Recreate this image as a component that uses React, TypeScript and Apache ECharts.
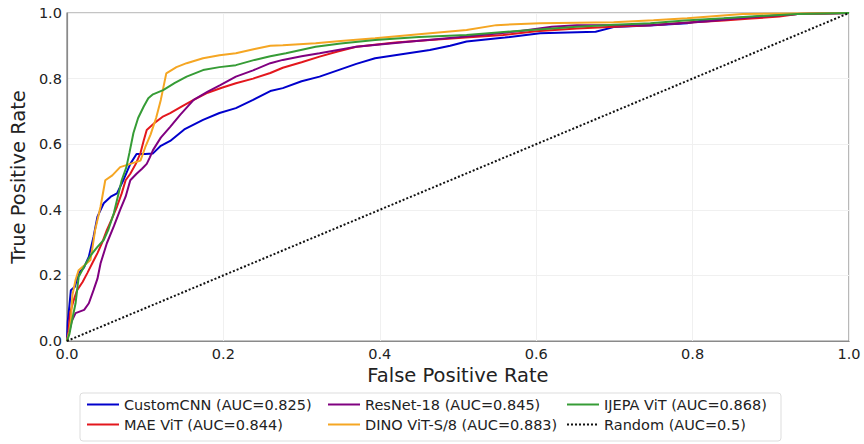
import React, { useEffect, useRef } from "react";
import * as echarts from "echarts";

const seriesNames = [
  "CustomCNN (AUC=0.825)",
  "MAE ViT (AUC=0.844)",
  "ResNet-18 (AUC=0.845)",
  "DINO ViT-S/8 (AUC=0.883)",
  "IJEPA ViT (AUC=0.868)",
  "Random (AUC=0.5)",
];

const customCnn: [number, number][] = [
  [0, 0], [0.001, 0.06], [0.003, 0.105], [0.005, 0.155], [0.01, 0.165], [0.015, 0.207],
  [0.022, 0.225], [0.028, 0.257], [0.034, 0.318], [0.039, 0.379], [0.047, 0.42], [0.056, 0.44],
  [0.064, 0.45], [0.072, 0.49], [0.081, 0.54], [0.089, 0.57], [0.1, 0.57], [0.11, 0.572],
  [0.12, 0.595], [0.132, 0.61], [0.15, 0.645], [0.174, 0.674], [0.195, 0.695], [0.216, 0.71],
  [0.238, 0.735], [0.26, 0.762], [0.276, 0.771], [0.3, 0.792], [0.323, 0.806], [0.347, 0.826],
  [0.37, 0.845], [0.394, 0.862], [0.43, 0.875], [0.464, 0.887], [0.49, 0.9], [0.511, 0.913],
  [0.56, 0.925], [0.605, 0.938], [0.676, 0.943], [0.699, 0.957], [0.75, 0.963], [0.793, 0.969],
  [0.817, 0.979], [0.85, 0.984], [0.887, 0.989], [0.934, 0.997], [1, 1],
];

const maeVit: [number, number][] = [
  [0, 0], [0.002, 0.03], [0.004, 0.085], [0.008, 0.12], [0.013, 0.155], [0.02, 0.18],
  [0.026, 0.207], [0.033, 0.24], [0.039, 0.268], [0.045, 0.3], [0.051, 0.338], [0.057, 0.37],
  [0.064, 0.41], [0.07, 0.45], [0.075, 0.49], [0.081, 0.51], [0.088, 0.54], [0.094, 0.573],
  [0.098, 0.61], [0.102, 0.643], [0.112, 0.665], [0.122, 0.683], [0.132, 0.695], [0.147, 0.715],
  [0.162, 0.735], [0.18, 0.757], [0.198, 0.772], [0.216, 0.786], [0.238, 0.8], [0.26, 0.817],
  [0.276, 0.833], [0.3, 0.85], [0.323, 0.867], [0.345, 0.882], [0.37, 0.897], [0.42, 0.91],
  [0.464, 0.918], [0.51, 0.925], [0.558, 0.933], [0.6, 0.944], [0.652, 0.953], [0.7, 0.958],
  [0.746, 0.963], [0.79, 0.97], [0.84, 0.977], [0.875, 0.983], [0.911, 0.989], [0.934, 0.997], [1, 1],
];

const resnet18: [number, number][] = [
  [0, 0], [0.003, 0.03], [0.006, 0.06], [0.011, 0.085], [0.022, 0.095], [0.028, 0.115],
  [0.034, 0.155], [0.039, 0.19], [0.043, 0.237], [0.051, 0.298], [0.06, 0.35], [0.068, 0.4],
  [0.075, 0.44], [0.081, 0.49], [0.089, 0.51], [0.096, 0.525], [0.102, 0.54], [0.106, 0.56],
  [0.11, 0.582], [0.12, 0.62], [0.132, 0.653], [0.145, 0.69], [0.162, 0.735], [0.18, 0.76],
  [0.196, 0.78], [0.216, 0.806], [0.238, 0.825], [0.26, 0.847], [0.276, 0.857], [0.3, 0.868],
  [0.323, 0.877], [0.37, 0.897], [0.44, 0.913], [0.511, 0.928], [0.58, 0.945], [0.62, 0.958],
  [0.652, 0.963], [0.7, 0.963], [0.746, 0.963], [0.817, 0.974], [0.85, 0.982], [0.887, 0.989],
  [0.934, 0.997], [1, 1],
];

const dinoVit: [number, number][] = [
  [0, 0], [0.003, 0.03], [0.005, 0.064], [0.007, 0.14], [0.011, 0.186], [0.015, 0.216],
  [0.022, 0.23], [0.03, 0.247], [0.033, 0.29], [0.036, 0.338], [0.043, 0.41], [0.049, 0.49],
  [0.058, 0.505], [0.068, 0.53], [0.081, 0.54], [0.094, 0.55], [0.1, 0.59], [0.107, 0.63],
  [0.114, 0.68], [0.12, 0.735], [0.127, 0.816], [0.14, 0.835], [0.153, 0.847], [0.174, 0.862],
  [0.195, 0.871], [0.216, 0.877], [0.24, 0.89], [0.26, 0.9], [0.276, 0.902], [0.318, 0.908],
  [0.35, 0.915], [0.394, 0.923], [0.45, 0.935], [0.511, 0.948], [0.549, 0.963], [0.605, 0.969],
  [0.699, 0.972], [0.75, 0.978], [0.793, 0.984], [0.864, 0.997], [1, 1],
];

const ijepaVit: [number, number][] = [
  [0, 0], [0.003, 0.02], [0.005, 0.044], [0.008, 0.08], [0.011, 0.115], [0.015, 0.196],
  [0.022, 0.227], [0.03, 0.26], [0.039, 0.287], [0.047, 0.308], [0.053, 0.34], [0.06, 0.39],
  [0.065, 0.44], [0.07, 0.49], [0.076, 0.53], [0.08, 0.575], [0.085, 0.634], [0.091, 0.68],
  [0.098, 0.714], [0.104, 0.74], [0.11, 0.752], [0.123, 0.765], [0.138, 0.787], [0.153, 0.806],
  [0.174, 0.826], [0.195, 0.835], [0.216, 0.841], [0.24, 0.857], [0.26, 0.868], [0.28, 0.877],
  [0.318, 0.897], [0.35, 0.907], [0.394, 0.918], [0.45, 0.927], [0.511, 0.933], [0.58, 0.946],
  [0.652, 0.958], [0.7, 0.964], [0.746, 0.969], [0.79, 0.977], [0.84, 0.984], [0.88, 0.99],
  [0.934, 0.997], [1, 1],
];

const randomLine: [number, number][] = [
  [0, 0], [1, 1],
];

const axisTicks = [0, 0.2, 0.4, 0.6, 0.8, 1.0];

const colors = ["#0000cc", "#e3171d", "#800080", "#f5a623", "#369c36", "#111111"];
const seriesData = [customCnn, maeVit, resnet18, dinoVit, ijepaVit, randomLine];

export default function App() {
  const ref = useRef<HTMLDivElement>(null);
  useEffect(() => {
    if (!ref.current) return;
    const chart = echarts.init(ref.current, undefined, { renderer: "svg" });
    const font = "DejaVu Sans";
    const legendText = { fontFamily: font, fontSize: 14.5, color: "#222" };
    const mkLegend = (idx: number[], left: number) => ({
      orient: "vertical" as const,
      left,
      top: 397,
      padding: 0,
      itemWidth: 32,
      itemHeight: 14,
      itemGap: 5,
      textStyle: legendText,
      itemStyle: { opacity: 0 },
      data: idx.map((i) => seriesNames[i]),
    });
    const fmt = (v: number) => (axisTicks.some((t) => Math.abs(t - v) < 1e-9) ? v.toFixed(1) : "");
    chart.setOption({
      animation: false,
      backgroundColor: "#ffffff",
      grid: {
        left: 63,
        top: 13,
        width: 786,
        height: 328,
        show: true,
        borderColor: "#8a8a8a",
        borderWidth: 1.2,
        containLabel: false,
      },
      xAxis: {
        type: "value",
        min: 0,
        max: 1,
        interval: 0.2,
        name: "False Positive Rate",
        nameLocation: "middle",
        nameGap: 21,
        nameTextStyle: { fontFamily: font, fontSize: 19.5, color: "#222" },
        axisLine: { show: true, lineStyle: { color: "#8a8a8a", width: 1.2 } },
        axisTick: { show: false },
        axisLabel: { fontFamily: font, fontSize: 14.5, color: "#222", margin: 5, formatter: fmt },
        splitLine: { show: true, lineStyle: { color: "#f0f0f0", width: 1 } },
      },
      yAxis: {
        type: "value",
        min: 0,
        max: 1,
        interval: 0.2,
        name: "True Positive Rate",
        nameLocation: "middle",
        nameGap: 33,
        nameTextStyle: { fontFamily: font, fontSize: 19.5, color: "#222" },
        axisLine: { show: true, lineStyle: { color: "#8a8a8a", width: 1.2 } },
        axisTick: { show: false },
        axisLabel: { fontFamily: font, fontSize: 14.5, color: "#222", margin: 5, formatter: fmt },
        splitLine: { show: true, lineStyle: { color: "#f0f0f0", width: 1 } },
      },
      legend: [mkLegend([0, 1], 86), mkLegend([2, 3], 327), mkLegend([4, 5], 566)],
      graphic: [
        {
          type: "rect",
          shape: { x: 80, y: 393, width: 701, height: 48, r: 3 },
          style: { fill: "none", stroke: "#dddddd", lineWidth: 1 },
          silent: true,
          z: -1,
        },
      ],
      series: seriesData.map((d, i) => ({
        name: seriesNames[i],
        type: "line",
        data: d,
        symbol: "none",
        showSymbol: false,
        color: colors[i],
        clip: true,
        z: 2 + i,
        lineStyle: {
          color: colors[i],
          width: 2,
          type: i === 5 ? [2, 2] : "solid",
        },
      })),
    });
    return () => chart.dispose();
  }, []);
  return <div ref={ref} style={{ position: "absolute", left: 0, top: 0, width: 864, height: 444 }} />;
}
